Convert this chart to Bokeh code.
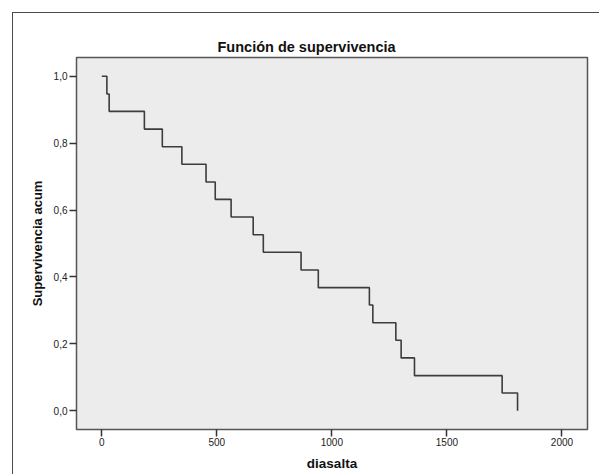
from bokeh.plotting import figure
from bokeh.models import FixedTicker, Range1d, InlineStyleSheet
from bokeh.embed import file_html
from bokeh.resources import INLINE

# Kaplan-Meier survival steps
days = [0, 22, 32, 185, 263, 348, 453, 493, 562, 658, 702, 866, 941,
        1163, 1178, 1278, 1301, 1359, 1740, 1807]
surv = [1.0, 0.947, 0.895, 0.842, 0.789, 0.737, 0.684, 0.632, 0.579, 0.526,
        0.474, 0.421, 0.368, 0.316, 0.263, 0.211, 0.158, 0.105, 0.053, 0.0]

x_ticks = [0, 500, 1000, 1500, 2000]
y_ticks = [0.0, 0.2, 0.4, 0.6, 0.8, 1.0]
y_tick_labels = ["0,0", "0,2", "0,4", "0,6", "0,8", "1,0"]

FONT = "Liberation Sans"

p = figure(width=599, height=474, output_backend="svg", toolbar_location=None,
           x_range=Range1d(-110, 2111), y_range=Range1d(-0.056, 1.056),
           min_border_left=76, min_border_right=12, min_border_top=57,
           min_border_bottom=45,
           title="Función de supervivencia")

p.background_fill_color = "#ececec"
p.border_fill_color = "white"
p.outline_line_color = "#555555"
p.outline_line_width = 1.5
p.xgrid.visible = False
p.ygrid.visible = False

p.title.align = "left"
p.title.offset = 141
p.title.standoff = 5
p.title.text_font = FONT
p.title.text_font_size = "14.5px"
p.title.text_font_style = "bold"
p.title.text_color = "#111111"

for ax in (p.xaxis[0], p.yaxis[0]):
    ax.axis_line_color = None
    ax.minor_tick_line_color = None
    ax.major_tick_in = 0
    ax.major_tick_out = 7
    ax.major_tick_line_color = "#333333"
    ax.major_tick_line_width = 1.5
    ax.major_label_text_font = FONT
    ax.major_label_text_font_size = "10px"
    ax.major_label_text_color = "#222222"
    ax.axis_label_text_font = FONT
    ax.axis_label_text_font_style = "bold"
    ax.axis_label_text_color = "#111111"

p.xaxis.ticker = FixedTicker(ticks=x_ticks)
p.xaxis.major_label_standoff = 1
p.xaxis.axis_label = "diasalta"
p.xaxis.axis_label_text_font_size = "13.5px"
p.xaxis.axis_label_standoff = 7

p.yaxis.ticker = FixedTicker(ticks=y_ticks)
p.yaxis.major_label_overrides = dict(zip(y_ticks, y_tick_labels))
p.yaxis.major_label_standoff = 2
p.yaxis.axis_label = "Supervivencia acum"
p.yaxis.axis_label_text_font_size = "13px"
p.yaxis.axis_label_standoff = 6

p.step(days, surv, mode="after", line_color="#3c3c3c", line_width=1.6)

# outer chart frame (SPSS-style), only its top and left edges fall inside the picture
p.stylesheets = [InlineStyleSheet(css="""
:host::after {
  content: "";
  position: absolute;
  left: 12px; top: 12px; right: 0; bottom: 0;
  border-left: 1.5px solid #4a4a4a;
  border-top: 1.5px solid #4a4a4a;
  pointer-events: none;
  z-index: 10;
}
""")]

open("out.html", "w").write(file_html(p, INLINE))
